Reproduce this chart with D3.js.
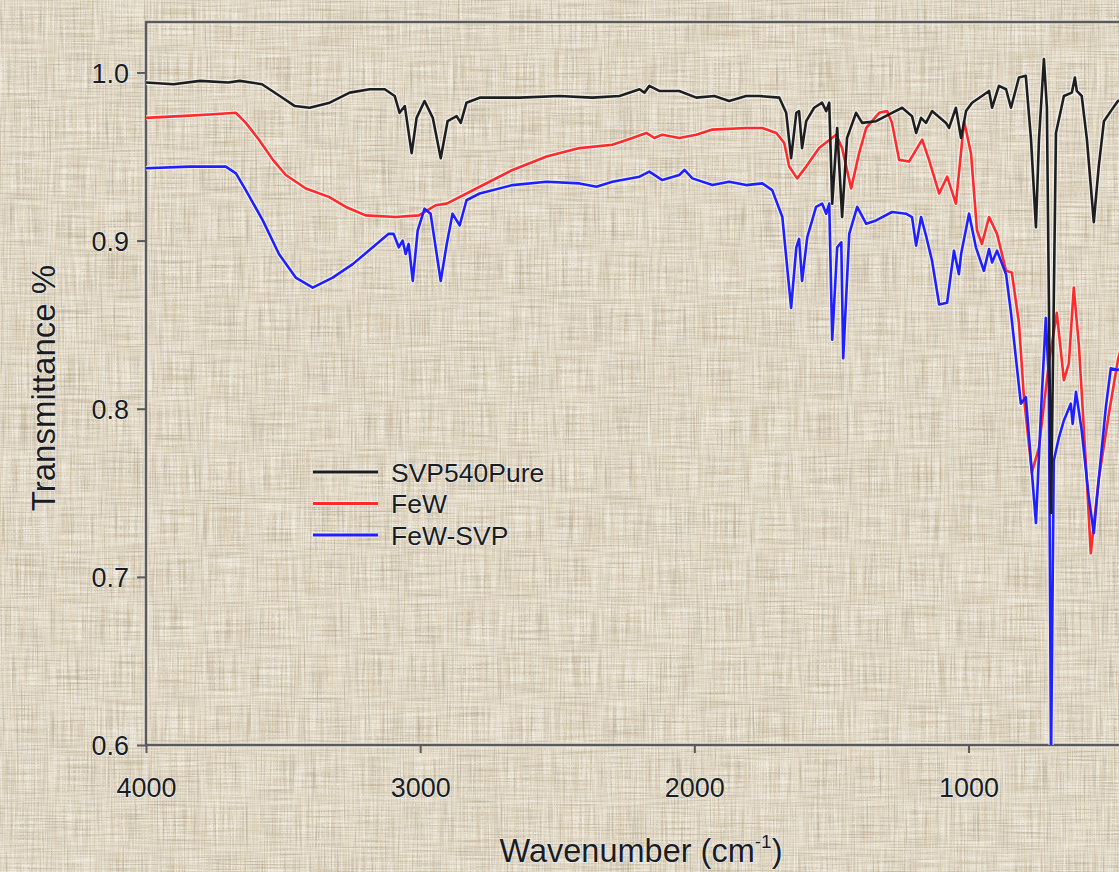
<!DOCTYPE html>
<html>
<head>
<meta charset="utf-8">
<script src="https://cdn.jsdelivr.net/npm/d3@7/dist/d3.min.js"></script>
<style>
html,body{margin:0;padding:0;background:#d7cab1;overflow:hidden;}
svg{display:block;}
text{font-family:"Liberation Sans",Arial,sans-serif;}
</style>
</head>
<body>
<svg id="chart" width="1119" height="872"></svg>
<script>
// ---- data ----
const seriesNames = ["SVP540Pure", "FeW", "FeW-SVP"];
const xTicks = [4000, 3000, 2000, 1000];
const yTicks = [0.6, 0.7, 0.8, 0.9, 1.0];

const svpWn = [4000,3900,3803,3700,3658,3577,3512,3457,3403,3330,3257,3184,3129,3093,3075,3056,3031,3013,2984,2954,2925,2900,2867,2852,2831,2783,2637,2492,2372,2273,2200,2182,2164,2128,2055,1993,1927,1873,1811,1763,1690,1665,1647,1628,1618,1607,1592,1563,1534,1519,1508,1497,1479,1461,1443,1410,1388,1337,1279,1242,1206,1191,1173,1155,1133,1082,1071,1046,1027,1009,987,951,925,914,889,863,845,816,791,772,754,743,725,714,699,681,652,623,612,605,587,568,543,525,506,481,455,420,400];
const svpT  = [0.994,0.993,0.995,0.994,0.995,0.993,0.986,0.980,0.979,0.982,0.988,0.990,0.990,0.986,0.976,0.980,0.952,0.973,0.983,0.973,0.949,0.971,0.974,0.970,0.982,0.985,0.985,0.986,0.985,0.986,0.990,0.988,0.992,0.989,0.989,0.985,0.986,0.983,0.986,0.986,0.985,0.976,0.949,0.976,0.977,0.955,0.971,0.979,0.982,0.977,0.982,0.922,0.967,0.914,0.961,0.976,0.970,0.971,0.976,0.979,0.974,0.964,0.973,0.970,0.977,0.970,0.967,0.979,0.961,0.977,0.982,0.986,0.989,0.979,0.992,0.990,0.979,0.997,0.998,0.960,0.908,0.960,1.008,0.979,0.738,0.964,0.986,0.988,0.997,0.989,0.986,0.960,0.911,0.944,0.971,0.977,0.983,0.985,0.986];

const fewWn = [4000,3876,3767,3672,3636,3588,3537,3490,3417,3333,3271,3199,3089,3005,2944,2903,2783,2663,2539,2419,2299,2226,2175,2146,2117,2055,1993,1934,1811,1752,1701,1672,1654,1625,1592,1545,1483,1461,1428,1399,1373,1326,1297,1279,1253,1217,1169,1144,1107,1078,1046,1016,991,969,951,925,896,863,842,816,798,769,743,707,678,652,634,616,597,572,554,525,488,455,430,400];
const fewT  = [0.973,0.974,0.975,0.976,0.970,0.960,0.948,0.939,0.931,0.926,0.920,0.915,0.914,0.915,0.921,0.922,0.932,0.942,0.950,0.955,0.957,0.961,0.964,0.961,0.963,0.961,0.963,0.966,0.967,0.967,0.964,0.958,0.944,0.937,0.944,0.955,0.963,0.955,0.931,0.952,0.967,0.976,0.977,0.970,0.948,0.947,0.960,0.948,0.928,0.938,0.922,0.971,0.952,0.906,0.898,0.914,0.904,0.882,0.881,0.851,0.807,0.762,0.777,0.827,0.857,0.817,0.827,0.872,0.837,0.768,0.714,0.758,0.797,0.829,0.845,0.855];

const fswWn = [4000,3840,3709,3672,3636,3574,3515,3454,3392,3319,3246,3173,3115,3097,3078,3064,3053,3042,3027,3009,2984,2962,2925,2903,2882,2856,2831,2783,2663,2539,2419,2357,2299,2200,2164,2117,2055,2036,2007,1934,1873,1811,1752,1716,1679,1647,1628,1618,1607,1588,1556,1534,1519,1508,1497,1479,1464,1457,1435,1406,1373,1337,1279,1228,1206,1191,1173,1155,1133,1107,1078,1053,1035,1027,998,973,944,925,914,896,863,845,809,791,754,736,718,707,699,689,670,652,627,620,608,587,561,543,525,499,481,455,430,400];
const fswT  = [0.943,0.944,0.944,0.940,0.930,0.912,0.892,0.878,0.872,0.878,0.886,0.896,0.904,0.904,0.896,0.900,0.892,0.898,0.876,0.906,0.919,0.916,0.876,0.898,0.916,0.909,0.924,0.928,0.933,0.935,0.934,0.932,0.935,0.938,0.941,0.936,0.939,0.942,0.937,0.933,0.935,0.933,0.934,0.930,0.914,0.860,0.896,0.901,0.876,0.902,0.920,0.922,0.916,0.922,0.841,0.896,0.899,0.830,0.904,0.920,0.910,0.912,0.917,0.916,0.914,0.897,0.914,0.903,0.888,0.862,0.863,0.894,0.880,0.892,0.916,0.896,0.882,0.895,0.887,0.894,0.880,0.857,0.803,0.807,0.732,0.797,0.854,0.817,0.590,0.769,0.783,0.793,0.803,0.791,0.810,0.787,0.747,0.726,0.758,0.801,0.824,0.823,0.825,0.827];

const seriesColors = ["#1e1e1e", "#ff2a2a", "#1f1fff"];

// ---- layout ----
const W = 1119, H = 872;
const svg = d3.select("#chart");
const defs = svg.append("defs");

// woven background texture (dark and light threads)
function weaveFilter(id, seedA, seedB, matrix) {
  const f = defs.append("filter").attr("id", id).attr("x",0).attr("y",0).attr("width","100%").attr("height","100%");
  f.append("feTurbulence").attr("type","fractalNoise").attr("baseFrequency","0.7 0.02").attr("numOctaves",2).attr("seed",seedA).attr("result","v");
  f.append("feTurbulence").attr("type","fractalNoise").attr("baseFrequency","0.02 0.7").attr("numOctaves",2).attr("seed",seedB).attr("result","h");
  f.append("feBlend").attr("in","v").attr("in2","h").attr("mode","multiply").attr("result","b");
  f.append("feColorMatrix").attr("in","b").attr("type","matrix").attr("values", matrix).attr("result","c");
  f.append("feComposite").attr("in","c").attr("in2","SourceGraphic").attr("operator","in");
}
weaveFilter("weaveDark", 3, 7, "0 0 0 0 0.33  0 0 0 0 0.28  0 0 0 0 0.2  -2.6 0 0 0 1.15");
weaveFilter("weaveLight", 11, 19, "0 0 0 0 0.97  0 0 0 0 0.95  0 0 0 0 0.9  2.6 0 0 0 -0.55");

svg.append("rect").attr("width",W).attr("height",H).attr("fill","#d6c9b0");
svg.append("rect").attr("width",W).attr("height",H).attr("fill","#d6c9b0").attr("filter","url(#weaveLight)").attr("opacity",0.7);
svg.append("rect").attr("width",W).attr("height",H).attr("fill","#d6c9b0").attr("filter","url(#weaveDark)").attr("opacity",0.7);

const x = d3.scaleLinear().domain([4000, 400]).range([146, 1133]);
const y = d3.scaleLinear().domain([0.6, 1.03]).range([745, 22]);

defs.append("clipPath").attr("id","plotclip").append("rect")
  .attr("x",146).attr("y",22).attr("width",1133-146).attr("height",745-22);

const textHalo = sel => sel.attr("fill","#1c1c1c").attr("stroke","rgba(235,242,250,0.75)")
  .attr("stroke-width",1.6).attr("paint-order","stroke").attr("stroke-linejoin","round");

// frame (top + left + bottom)
const frameColor = "#5a5a5a";
const framePath = `M${x(400)},${y(1.03)}H${x(4000)}V${y(0.6)}H${x(400)}`;
svg.append("path").attr("d", framePath)
  .attr("fill","none").attr("stroke","rgba(245,245,240,0.6)").attr("stroke-width",5);
svg.append("path").attr("d", framePath)
  .attr("fill","none").attr("stroke",frameColor).attr("stroke-width",2.5);

// axes
const xAxis = svg.append("g").attr("transform",`translate(0,${y(0.6)})`)
  .call(d3.axisBottom(x).tickValues(xTicks).tickSize(8).tickFormat(d3.format("d")));
const yAxis = svg.append("g").attr("transform",`translate(${x(4000)},0)`)
  .call(d3.axisLeft(y).tickValues(yTicks).tickSize(9).tickFormat(d3.format(".1f")));
[xAxis, yAxis].forEach(g => {
  g.select(".domain").remove();
  g.selectAll(".tick line").attr("stroke",frameColor).attr("stroke-width",2);
  g.selectAll(".tick text").attr("font-size",27).call(textHalo);
});
xAxis.selectAll(".tick text").attr("dy",0).attr("y",52);
yAxis.selectAll(".tick text").attr("x",-17).attr("dy","0.36em");

// series lines
const line = d3.line().x(d => x(d[0])).y(d => y(d[1]));
const series = [
  {name: seriesNames[0], color: seriesColors[0], data: d3.zip(svpWn, svpT)},
  {name: seriesNames[1], color: seriesColors[1], data: d3.zip(fewWn, fewT)},
  {name: seriesNames[2], color: seriesColors[2], data: d3.zip(fswWn, fswT)}
];
const plot = svg.append("g").attr("clip-path","url(#plotclip)");
const drawOrder = [1, 2, 0];
drawOrder.forEach(i => {
  plot.append("path").attr("d", line(series[i].data)).attr("fill","none")
    .attr("stroke","rgba(245,245,245,0.75)").attr("stroke-width",5).attr("stroke-linejoin","round");
});
drawOrder.forEach(i => {
  plot.append("path").attr("d", line(series[i].data)).attr("fill","none")
    .attr("stroke", series[i].color).attr("stroke-width",2.6).attr("stroke-linejoin","round");
});

// legend
const legend = svg.append("g");
series.forEach((s, i) => {
  const ly = 472 + i * 31.5;
  legend.append("line").attr("x1",313).attr("x2",378).attr("y1",ly).attr("y2",ly)
    .attr("stroke","rgba(245,245,245,0.75)").attr("stroke-width",5.5);
  legend.append("line").attr("x1",313).attr("x2",378).attr("y1",ly).attr("y2",ly)
    .attr("stroke",s.color).attr("stroke-width",2.8);
  legend.append("text").attr("x",391).attr("y",ly).attr("dy","0.36em")
    .attr("font-size",26.5).text(s.name).call(textHalo);
});

// axis titles
const xt = svg.append("text").attr("x",641).attr("y",862).attr("text-anchor","middle")
  .attr("font-size",32.5).call(textHalo);
xt.append("tspan").text("Wavenumber (cm");
xt.append("tspan").attr("font-size",19).attr("dy",-14).text("-1");
xt.append("tspan").attr("dy",14).text(")");

svg.append("text").attr("transform","translate(55,388) rotate(-90)")
  .attr("text-anchor","middle").attr("font-size",33).text("Transmittance %").call(textHalo);
</script>
</body>
</html>
